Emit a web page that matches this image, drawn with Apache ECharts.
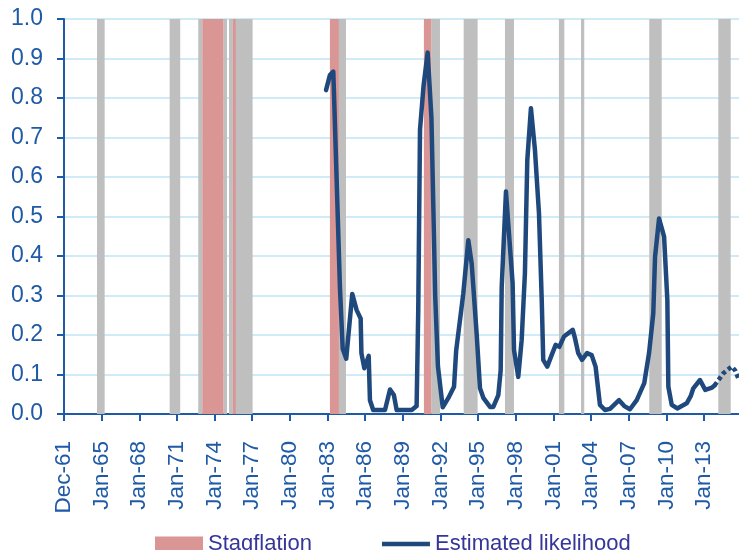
<!DOCTYPE html>
<html>
<head>
<meta charset="utf-8">
<script src="https://cdn.jsdelivr.net/npm/echarts@6/dist/echarts.min.js"></script>
<style>
html,body{margin:0;padding:0;background:#fff;}
#chart{width:739px;height:550px;}
</style>
</head>
<body>
<div id="chart"></div>
<script>
// x values are fractional years
const tickLabels = ['Dec-61','Jan-65','Jan-68','Jan-71','Jan-74','Jan-77','Jan-80','Jan-83','Jan-86','Jan-89','Jan-92','Jan-95','Jan-98','Jan-01','Jan-04','Jan-07','Jan-10','Jan-13'];

const likelihoodYears = [1982.88,1983.19,1983.46,1983.73,1983.99,1984.21,1984.49,1984.97,1985.32,1985.64,1985.70,1985.93,1986.28,1986.38,1986.64,1987.58,1987.98,1988.29,1988.51,1989.71,1990.10,1990.23,1990.37,1990.65,1990.98,1991.28,1991.58,1991.80,1992.18,1992.62,1993.08,1993.25,1993.82,1994.22,1994.49,1994.89,1995.15,1995.43,1995.95,1996.21,1996.61,1996.80,1996.88,1997.22,1997.40,1997.75,1997.86,1998.20,1998.47,1998.73,1998.92,1999.21,1999.53,1999.85,2000.07,2000.19,2000.51,2000.86,2001.18,2001.47,2001.84,2002.54,2002.72,2002.98,2003.28,2003.68,2004.05,2004.36,2004.71,2005.11,2005.51,2006.23,2006.65,2007.10,2007.64,2008.24,2008.62,2008.96,2009.10,2009.42,2009.82,2010.08,2010.16,2010.43,2010.87,2011.62,2011.94,2012.15,2012.68,2013.10,2013.64,2013.84];
const likelihoodValues = [0.82,0.858,0.867,0.59,0.32,0.165,0.14,0.304,0.263,0.242,0.154,0.116,0.147,0.035,0.01,0.01,0.062,0.048,0.01,0.01,0.02,0.263,0.72,0.83,0.915,0.75,0.30,0.12,0.017,0.04,0.069,0.16,0.305,0.44,0.38,0.2,0.065,0.04,0.018,0.018,0.048,0.111,0.322,0.563,0.483,0.331,0.162,0.094,0.187,0.356,0.643,0.774,0.668,0.508,0.289,0.137,0.12,0.149,0.175,0.17,0.196,0.213,0.192,0.154,0.137,0.154,0.149,0.12,0.023,0.01,0.013,0.035,0.02,0.012,0.035,0.078,0.154,0.255,0.398,0.495,0.449,0.289,0.069,0.023,0.014,0.027,0.045,0.065,0.086,0.061,0.067,0.072];

const forecastYears = [2013.84,2014.54,2015.21,2015.47,2015.79];
const forecastValues = [0.072,0.103,0.12,0.111,0.086];

const stagflationStart = [1973.02,1975.46,1983.19,1990.68];
const stagflationEnd   = [1974.71,1975.70,1983.91,1991.27];

const grayStart = [1964.63,1970.42,1972.70,1974.71,1975.15,1975.70,1983.91,1991.27,1993.85,1997.14,2001.44,2003.20,2008.64,2014.14];
const grayEnd   = [1965.24,1971.26,1973.02,1974.99,1975.46,1977.03,1984.47,1991.96,1994.96,1997.86,2001.87,2003.46,2009.63,2015.13];

const X_MIN = 1962, X_MAX = 2015.79;
const BLUE = '#1f5aa6';
const FONT = 'Liberation Sans, Arial, sans-serif';

function pairs(xs, ys){ return xs.map((x,i)=>[x, ys[i]]); }
function areas(s, e){ return s.map((v,i)=>[{xAxis:v},{xAxis:e[i]}]); }

const chart = echarts.init(document.getElementById('chart'), null, {renderer:'canvas'});
chart.setOption({
  animation:false,
  backgroundColor:'#ffffff',
  grid:{left:64, top:19, width:675, height:395, containLabel:false},
  legend:{
    left:150, top:528, itemWidth:48, itemHeight:15, itemGap:70,
    textStyle:{fontFamily:FONT, fontSize:22, color:'#35359a'},
    data:[{name:'Stagflation', icon:'rect'}, {name:'Estimated likelihood', icon:'path://M0 0H48V4.5H0Z'}]
  },
  xAxis:{
    type:'value', min:X_MIN, max:X_MAX, interval:3,
    axisLine:{show:true, onZero:false, lineStyle:{color:BLUE, width:2}},
    axisTick:{show:true, length:7, lineStyle:{color:BLUE, width:2}},
    splitLine:{show:false},
    axisLabel:{
      rotate:90, margin:27, fontFamily:FONT, fontSize:22.5, color:BLUE, showMaxLabel:false,
      formatter:function(v){
        const k = (v - X_MIN)/3;
        if (Math.abs(k - Math.round(k)) > 1e-6) return '';
        return tickLabels[Math.round(k)] || '';
      }
    }
  },
  yAxis:{
    type:'value', min:0, max:1, interval:0.1,
    axisLine:{show:true, lineStyle:{color:BLUE, width:2}},
    axisTick:{show:true, length:7, lineStyle:{color:BLUE, width:2}},
    splitLine:{show:true, lineStyle:{color:'#bfe5f6', width:1.5}},
    axisLabel:{margin:21, fontFamily:FONT, fontSize:23, color:BLUE,
      formatter:function(v){ return v.toFixed(1); }}
  },
  series:[
    {
      name:'bands', type:'line', data:[], z:1, silent:true,
      markArea:{silent:true, itemStyle:{color:'#bfbfbf', opacity:1}, data:areas(grayStart, grayEnd)}
    },
    {
      name:'Stagflation', type:'bar', data:[], z:1, silent:true,
      itemStyle:{color:'#d99694'},
      markArea:{silent:true, itemStyle:{color:'#d99694', opacity:1}, data:areas(stagflationStart, stagflationEnd)}
    },
    {
      name:'Estimated likelihood', type:'line', z:5, symbol:'none', showSymbol:false,
      data:pairs(likelihoodYears, likelihoodValues),
      lineStyle:{color:'#1f497d', width:4.5, join:'round', cap:'round'},
      itemStyle:{color:'#1f497d'}
    },
    {
      name:'forecast', type:'line', z:5, symbol:'none', showSymbol:false,
      data:pairs(forecastYears, forecastValues),
      lineStyle:{color:'#1f497d', width:4.5, type:[4,3]},
      itemStyle:{color:'#1f497d'}
    }
  ]
});
</script>
</body>
</html>
